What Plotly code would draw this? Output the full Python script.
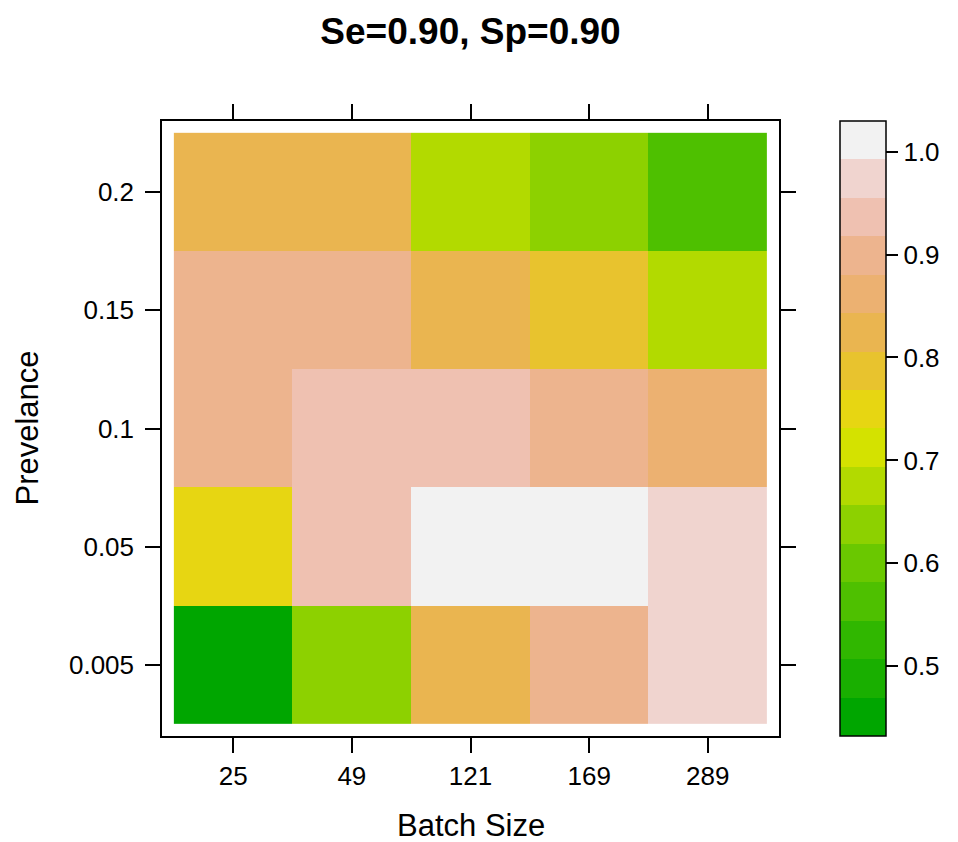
import colorsys
import plotly.graph_objects as go

# ---- data ----
batch_sizes = ["25", "49", "121", "169", "289"]
prevalences = ["0.005", "0.05", "0.1", "0.15", "0.2"]
row_005 = [0.469, 0.638, 0.824, 0.899, 0.973]
row_05 = [0.750, 0.936, 0.993, 0.993, 0.973]
row_10 = [0.899, 0.936, 0.936, 0.899, 0.862]
row_15 = [0.899, 0.899, 0.824, 0.787, 0.675]
row_20 = [0.824, 0.824, 0.675, 0.638, 0.563]
z = [row_005, row_05, row_10, row_15, row_20]
colorbar_ticks = [0.5, 0.6, 0.7, 0.8, 0.9, 1.0]
title_text = "Se=0.90, Sp=0.90"
x_title = "Batch Size"
y_title = "Prevelance"


# ---- R terrain.colors(100), sampled as lattice does for 16 regions ----
def terrain_colors(n):
    k = n // 2
    def seq(a, b, m):
        return [a + (b - a) * i / (m - 1) if m > 1 else a for i in range(m)]
    h1, s1, v1 = seq(4/12, 2/12, k), seq(1, 1, k), seq(0.65, 0.9, k)
    m = n - k + 1
    h2, s2, v2 = seq(2/12, 0, m)[1:], seq(1, 0, m)[1:], seq(0.9, 0.95, m)[1:]
    out = []
    for h, s, v in zip(h1 + h2, s1 + s2, v1 + v2):
        r, g, b = colorsys.hsv_to_rgb(h, s, v)
        out.append("rgb(%d,%d,%d)" % (round(r * 255), round(g * 255), round(b * 255)))
    return out

nreg = 16
pal = terrain_colors(100)
idx = [int(round(1 + i * 99 / (nreg - 1))) - 1 for i in range(nreg)]
cols = [pal[i] for i in idx]
colorscale = []
for k, c in enumerate(cols):
    colorscale.append([k / nreg, c])
    colorscale.append([(k + 1) / nreg, c])

flat = [v for r in z for v in r]
zlo, zhi = min(flat), max(flat)
pad = 0.07 * (zhi - zlo)
zmin, zmax = zlo - pad, zhi + pad

FONT = "Liberation Sans, Arial, Helvetica, sans-serif"

# page body has an 8px margin; figure is sized/offset to compensate
OFF = 8
W, H = 958 - OFF, 842 - OFF
L, R, T, B = 162 - OFF, 958 - 779, 121 - OFF, 842 - 736
PW, PH = W - L - R, H - T - B

fig = go.Figure(go.Heatmap(
    x=batch_sizes, y=prevalences, z=z,
    zmin=zmin, zmax=zmax, colorscale=colorscale,
    hoverongaps=False,
    colorbar=dict(
        x=(840 - 162) / PW, xanchor="left", xpad=0,
        y=0.5, yanchor="middle", ypad=0,
        len=1, lenmode="fraction", thickness=46,
        outlinewidth=1.5, outlinecolor="black",
        tickvals=colorbar_ticks, ticktext=["%.1f" % t for t in colorbar_ticks],
        ticks="outside", ticklen=12, tickwidth=1.5, tickcolor="black",
        tickfont=dict(family=FONT, size=26, color="black"),
    ),
))

axis_common = dict(
    showline=True, linecolor="black", linewidth=1.5, mirror="ticks",
    ticks="outside", ticklen=15, tickwidth=1.5, tickcolor="black",
    tickfont=dict(family=FONT, size=26, color="black"),
    showgrid=False, zeroline=False, range=[-0.6, 4.6],
    type="category",
)

fig.update_layout(
    width=W, height=H,
    margin=dict(l=L, r=R, t=T, b=B),
    paper_bgcolor="white", plot_bgcolor="white",
    title=dict(text="<b>%s</b>" % title_text, x=(L + PW / 2) / W, xanchor="center",
               y=1 - (31 - OFF) / H, yanchor="middle", yref="container",
               font=dict(family=FONT, size=37, color="black")),
    xaxis=dict(**axis_common, ticklabelstandoff=1),
    yaxis=dict(**axis_common, ticklabelstandoff=6),
    annotations=[
        dict(text=x_title, xref="paper", yref="paper", x=0.5, y=-(825 - 736) / PH,
             xanchor="center", yanchor="middle", showarrow=False,
             font=dict(family=FONT, size=31, color="black")),
        dict(text=y_title, xref="paper", yref="paper", x=(27 - 162) / PW, y=0.5,
             xanchor="center", yanchor="middle", showarrow=False, textangle=-90,
             font=dict(family=FONT, size=31, color="black")),
    ],
)

fig.write_html("out.html")
